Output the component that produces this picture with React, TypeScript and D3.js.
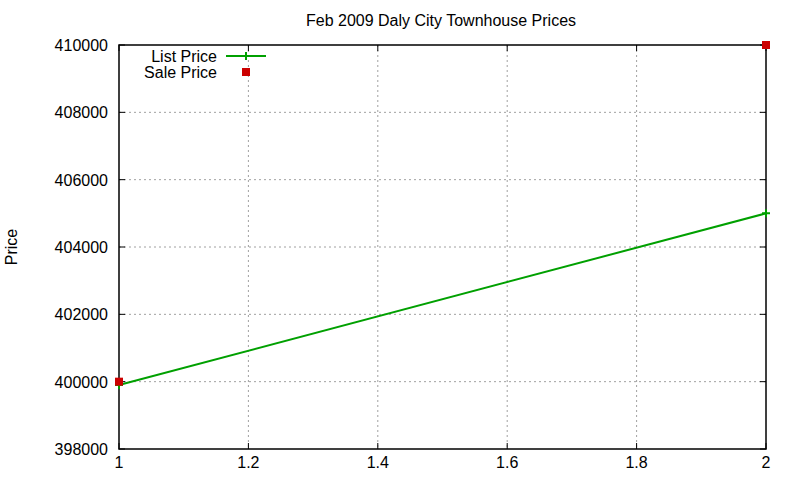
import { useEffect, useRef } from 'react';
import * as d3 from 'd3';

const xValues = [1, 2];
const listPrice = [399900, 405000];
const salePrice = [400000, 410000];
const xTicks = [1, 1.2, 1.4, 1.6, 1.8, 2];
const yTicks = [398000, 400000, 402000, 404000, 406000, 408000, 410000];
const seriesNames = ['List Price', 'Sale Price'];

export default function App() {
  const svgRef = useRef<SVGSVGElement>(null);

  useEffect(() => {
    if (!svgRef.current) return;
    const svg = d3.select(svgRef.current);
    svg.selectAll('*').remove();

    const margin = { top: 45, right: 34, bottom: 31, left: 119 };
    const W = 800, H = 480;
    const width = W - margin.left - margin.right;
    const height = H - margin.top - margin.bottom;
    const font = 'Liberation Sans, Arial, sans-serif';
    const fs = '16px';

    const x = d3.scaleLinear().domain([1, 2]).range([0, width]);
    const y = d3.scaleLinear().domain([398000, 410000]).range([height, 0]);

    const g = svg.append('g').attr('transform', `translate(${margin.left},${margin.top})`);

    // grid
    xTicks.slice(1, -1).forEach(t => {
      g.append('line')
        .attr('x1', x(t)).attr('x2', x(t)).attr('y1', 0).attr('y2', height)
        .attr('stroke', '#a0a0a0').attr('stroke-dasharray', '2,3').attr('stroke-width', 1);
    });
    yTicks.slice(1, -1).forEach(t => {
      g.append('line')
        .attr('x1', 0).attr('x2', width).attr('y1', y(t)).attr('y2', y(t))
        .attr('stroke', '#a0a0a0').attr('stroke-dasharray', '2,3').attr('stroke-width', 1);
    });

    // tick marks (inward, mirrored)
    xTicks.forEach(t => {
      g.append('line').attr('x1', x(t)).attr('x2', x(t)).attr('y1', height).attr('y2', height - 6)
        .attr('stroke', '#000');
      g.append('line').attr('x1', x(t)).attr('x2', x(t)).attr('y1', 0).attr('y2', 6)
        .attr('stroke', '#000');
      g.append('text')
        .attr('x', x(t)).attr('y', height + 19)
        .attr('text-anchor', 'middle')
        .style('font-family', font).style('font-size', fs)
        .text(d3.format('~g')(t));
    });
    yTicks.forEach(t => {
      g.append('line').attr('x1', 0).attr('x2', 6).attr('y1', y(t)).attr('y2', y(t))
        .attr('stroke', '#000');
      g.append('line').attr('x1', width).attr('x2', width - 6).attr('y1', y(t)).attr('y2', y(t))
        .attr('stroke', '#000');
      g.append('text')
        .attr('x', -11).attr('y', y(t) + 6)
        .attr('text-anchor', 'end')
        .style('font-family', font).style('font-size', fs)
        .text(String(t));
    });

    // frame
    g.append('rect')
      .attr('x', 0).attr('y', 0).attr('width', width).attr('height', height)
      .attr('fill', 'none').attr('stroke', '#000').attr('stroke-width', 1.5);

    // List price line
    const line = d3.line<number>().x((_, i) => x(xValues[i])).y(d => y(d));
    g.append('path')
      .datum(listPrice)
      .attr('d', line)
      .attr('fill', 'none').attr('stroke', '#00a000').attr('stroke-width', 2);
    listPrice.forEach((v, i) => {
      const cx = x(xValues[i]), cy = y(v);
      g.append('path')
        .attr('d', `M${cx - 4},${cy}H${cx + 4}M${cx},${cy - 4}V${cy + 4}`)
        .attr('stroke', '#00a000').attr('stroke-width', 2);
    });

    // Sale price points
    salePrice.forEach((v, i) => {
      g.append('rect')
        .attr('x', x(xValues[i]) - 4).attr('y', y(v) - 4)
        .attr('width', 8).attr('height', 8)
        .attr('fill', '#cc0000');
    });

    // legend
    const legend = svg.append('g').attr('transform', 'translate(217, 56)');
    seriesNames.forEach((name, i) => {
      legend.append('text')
        .attr('x', 0).attr('y', i * 16 + 6)
        .attr('text-anchor', 'end')
        .style('font-family', font).style('font-size', fs)
        .text(name);
    });
    legend.append('line').attr('x1', 9).attr('x2', 49).attr('y1', 0).attr('y2', 0)
      .attr('stroke', '#00a000').attr('stroke-width', 2);
    legend.append('path').attr('d', 'M25,0H33M29,-4V4')
      .attr('stroke', '#00a000').attr('stroke-width', 2);
    legend.append('rect').attr('x', 25).attr('y', 12).attr('width', 8).attr('height', 8)
      .attr('fill', '#cc0000');

    // title
    svg.append('text')
      .attr('x', 441).attr('y', 26)
      .attr('text-anchor', 'middle')
      .style('font-family', font).style('font-size', fs)
      .text('Feb 2009 Daly City Townhouse Prices');

    // y label
    svg.append('text')
      .attr('transform', `translate(17, ${margin.top + height / 2}) rotate(-90)`)
      .attr('text-anchor', 'middle')
      .style('font-family', font).style('font-size', fs)
      .text('Price');
  }, []);

  return (
    <div style={{ position: 'fixed', left: 0, top: 0 }}>
      <svg ref={svgRef} width={800} height={480} style={{ display: 'block', background: '#fff' }} />
    </div>
  );
}
